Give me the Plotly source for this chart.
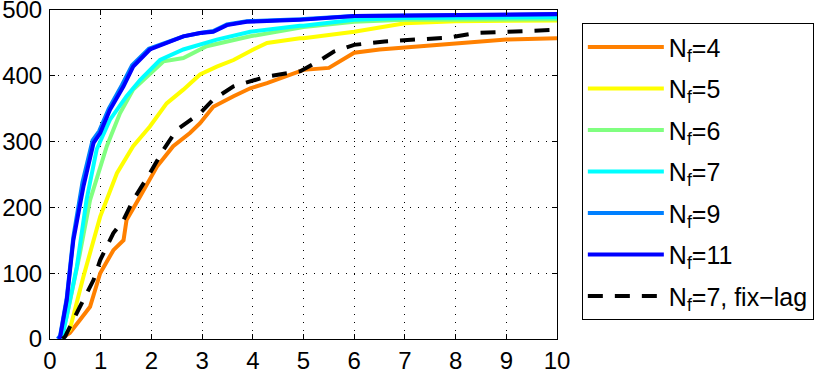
import plotly.graph_objects as go

# values
X_NF4 = [0.2, 0.39, 0.59, 0.79, 0.99, 1.25, 1.45, 1.51, 1.78, 2.11, 2.43, 2.76, 2.96, 3.22, 3.62, 3.95, 4.28, 4.93, 5.0, 5.5, 6.0, 6.5, 7.0, 8.0, 9.0, 10.0]
Y_NF4 = [0, 9, 29, 49, 100, 135, 150, 181, 217, 262, 293, 313, 328, 353, 369, 381, 389, 407, 409, 412, 435, 440, 443, 448, 455, 457]

X_NF5 = [0.2, 0.39, 0.66, 0.99, 1.32, 1.64, 1.97, 2.3, 2.63, 2.96, 3.29, 3.62, 4.01, 4.28, 4.93, 5.0, 6.0, 7.0, 8.0, 10.0]
Y_NF5 = [0, 14, 95, 186, 252, 293, 323, 358, 379, 402, 414, 424, 440, 450, 457, 457, 467, 480, 483, 484]

X_NF6 = [0.2, 0.33, 0.59, 0.79, 1.12, 1.38, 1.64, 1.91, 2.24, 2.63, 3.09, 3.95, 4.93, 5.0, 6.0, 7.0, 10.0]
Y_NF6 = [0, 34, 130, 211, 293, 343, 379, 399, 422, 427, 445, 460, 474, 474, 482, 485, 486]

X_NF7 = [0.18, 0.26, 0.53, 0.72, 0.92, 1.18, 1.51, 1.78, 2.17, 2.63, 3.29, 3.95, 4.93, 5.0, 6.0, 7.0, 10.0]
Y_NF7 = [0, 9, 110, 211, 288, 333, 369, 394, 424, 440, 455, 467, 476, 476, 485, 488, 489]

X_NF9 = [0.15, 0.2, 0.33, 0.46, 0.64, 0.84, 0.97, 1.16, 1.42, 1.62, 1.95, 2.3, 2.63, 2.96, 3.22, 3.49, 3.88, 4.93, 6.0, 10.0]
Y_NF9 = [0, 5, 62, 155, 238, 302, 316, 350, 386, 416, 441, 451, 460, 465, 468, 478, 483, 486, 491, 493]

X_NF11 = [0.17, 0.2, 0.33, 0.46, 0.66, 0.86, 0.99, 1.18, 1.45, 1.64, 1.97, 2.3, 2.63, 2.96, 3.22, 3.49, 3.88, 4.93, 6.0, 10.0]
Y_NF11 = [0, 3, 59, 150, 232, 298, 313, 348, 384, 414, 440, 450, 460, 465, 467, 477, 482, 485, 491, 494]

X_FIX = [0.25, 0.3, 0.59, 0.86, 0.99, 1.25, 1.45, 1.64, 1.97, 2.24, 2.5, 2.96, 3.22, 3.62, 4.28, 4.94, 5.4, 5.6, 6.0, 6.6, 7.2, 7.85, 8.4, 9.1, 9.8, 10.0]
Y_FIX = [0, 4, 49, 90, 120, 161, 181, 211, 252, 288, 318, 343, 364, 384, 399, 407, 427, 437, 447, 452, 455, 458, 465, 467, 470, 470]

SERIES = [
    ("N<sub>f</sub>=4", X_NF4, Y_NF4, "#ff8000", "solid"),
    ("N<sub>f</sub>=5", X_NF5, Y_NF5, "#ffff00", "solid"),
    ("N<sub>f</sub>=6", X_NF6, Y_NF6, "#80ff80", "solid"),
    ("N<sub>f</sub>=7", X_NF7, Y_NF7, "#00ffff", "solid"),
    ("N<sub>f</sub>=9", X_NF9, Y_NF9, "#0080ff", "solid"),
    ("N<sub>f</sub>=11", X_NF11, Y_NF11, "#0000ff", "solid"),
    ("N<sub>f</sub>=7, fix\u2212lag", X_FIX, Y_FIX, "#000000", "15px,12px"),
]

X_TICKS = list(range(0, 11))
Y_TICKS = [0, 100, 200, 300, 400, 500]

fig = go.Figure()
for i, (name, xs, ys, color, dash) in enumerate(SERIES):
    fig.add_trace(go.Scatter(
        x=xs, y=ys, name=name, mode="lines", legendgroup=f"g{i}",
        line=dict(color=color, width=4, dash=dash),
    ))

axis_style = dict(
    showline=True, linecolor="black", linewidth=1, mirror="ticks",
    ticks="inside", ticklen=5, tickcolor="black",
    showgrid=True, gridcolor="black", gridwidth=1, griddash="1px,7px",
    zeroline=False, tickfont=dict(size=24, color="black"),
    ticklabeloverflow="allow", automargin=False,
)

fig.update_xaxes(range=[0, 10], tickvals=X_TICKS, **axis_style)
fig.update_yaxes(range=[0, 500], tickvals=Y_TICKS, ticklabelstandoff=2, **axis_style)

fig.update_layout(
    width=830, height=371,
    margin=dict(l=50, r=273, t=10, b=32, autoexpand=False),
    paper_bgcolor="white", plot_bgcolor="white",
    font=dict(family="Liberation Sans, Arial, sans-serif", color="black"),
    legend=dict(
        x=1.049, y=0.96, xanchor="left", yanchor="top",
        bordercolor="black", borderwidth=1,
        font=dict(size=25),
        itemwidth=76,
        tracegroupgap=6,
    ),
)

# drop the page's default body margin so the figure sits at the window corner
fig.write_html(
    "out.html",
    config={"displayModeBar": False},
    post_script="document.body.style.margin='0';",
)
